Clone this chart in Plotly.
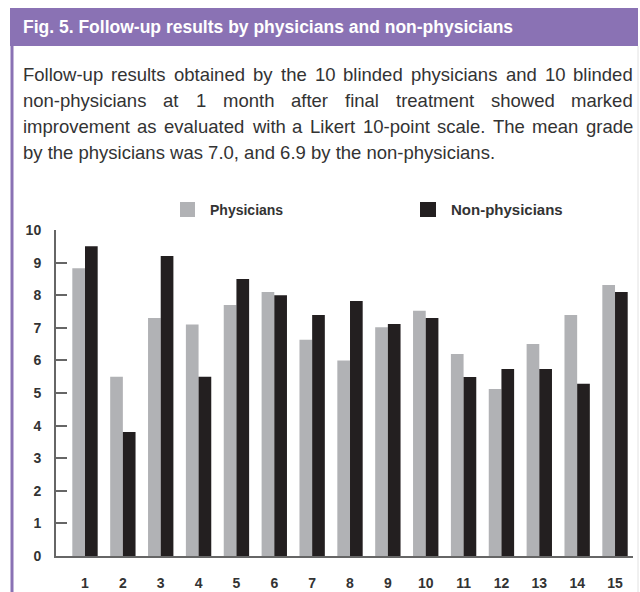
import plotly.graph_objects as go

categories = list(range(1, 16))
physicians = [8.83, 5.5, 7.3, 7.1, 7.7, 8.1, 6.63, 6.0, 7.02, 7.52, 6.2, 5.12, 6.5, 7.39, 8.31]
non_physicians = [9.5, 3.8, 9.2, 5.5, 8.5, 8.0, 7.39, 7.82, 7.12, 7.3, 5.49, 5.74, 5.74, 5.28, 8.1]
y_ticks = list(range(0, 11))

title_text = "Fig. 5. Follow-up results by physicians and non-physicians"
caption_lines = [
    "Follow-up results obtained by the 10 blinded physicians and 10 blinded",
    "non-physicians at 1 month after final treatment showed marked",
    "improvement as evaluated with a Likert 10-point scale. The mean grade",
    "by the physicians was 7.0, and 6.9 by the non-physicians.",
]
justify = [True, True, True, False]

W, H = 640, 592
L, R, T, B = 56, 7, 230, 36
PW, PH = W - L - R, H - T - B

def px(x):
    return (x - L) / PW

def py(y):
    return (H - B - y) / PH

PURPLE = "#8A72B4"
GRAY = "#B1B2B5"
BLACK = "#231F20"
FONT = "Liberation Sans, Arial, sans-serif"

# Arial / Liberation Sans advance widths (per 1000 em) for text layout
AW = {c: 556 for c in "abdeghnopqu0123456789"}
AW.update({"c": 500, "f": 278, "i": 222, "j": 222, "k": 500, "l": 222, "m": 833, "r": 333,
           "s": 500, "t": 278, "v": 500, "w": 722, "x": 500, "y": 500, "z": 500,
           " ": 278, "-": 333, ".": 278, ",": 278, "F": 611, "L": 556, "T": 611})

def text_width(s, size):
    return sum(AW.get(ch, 556) for ch in s) * size / 1000.0

fig = go.Figure()
fig.add_trace(go.Bar(x=categories, y=physicians, name="Physicians",
                     marker=dict(color=GRAY, line=dict(width=0))))
fig.add_trace(go.Bar(x=categories, y=non_physicians, name="Non-physicians",
                     marker=dict(color=BLACK, line=dict(width=0))))

shapes = [
    dict(type="rect", xref="paper", yref="paper", x0=px(10), x1=px(638), y0=py(8), y1=py(46),
         fillcolor=PURPLE, line=dict(width=0), layer="below"),
    dict(type="rect", xref="paper", yref="paper", x0=px(10.5), x1=px(13.5), y0=py(46), y1=py(592),
         fillcolor=PURPLE, line=dict(width=0), layer="below"),
    dict(type="line", xref="paper", yref="paper", x0=px(638), x1=px(638), y0=py(46), y1=py(592),
         line=dict(color="#E2E2E2", width=1), layer="below"),
    dict(type="rect", xref="paper", yref="paper", x0=px(180), x1=px(195), y0=py(202), y1=py(217),
         fillcolor=GRAY, line=dict(width=0)),
    dict(type="rect", xref="paper", yref="paper", x0=px(420), x1=px(436), y0=py(202), y1=py(217),
         fillcolor=BLACK, line=dict(width=0)),
]

annotations = [
    dict(text="<b>" + title_text + "</b>", xref="paper", yref="paper", x=px(22), y=py(27),
         xanchor="left", yanchor="middle", showarrow=False, borderpad=0,
         font=dict(family=FONT, size=17.5, color="white")),
    dict(text="<b>Physicians</b>", xref="paper", yref="paper", x=px(209), y=py(209.5),
         xanchor="left", yanchor="middle", showarrow=False, borderpad=0,
         font=dict(family=FONT, size=14, color="#333333")),
    dict(text="<b>Non-physicians</b>", xref="paper", yref="paper", x=px(450), y=py(209.5),
         xanchor="left", yanchor="middle", showarrow=False, borderpad=0,
         font=dict(family=FONT, size=15, color="#333333")),
]

CAP_SIZE = 18.5
X_LEFT, X_RIGHT = 22, 632
for i, line in enumerate(caption_lines):
    yc = py(74 + 26 * i)
    cfont = dict(family=FONT, size=CAP_SIZE, color="#333333")
    if not justify[i]:
        annotations.append(dict(text=line, xref="paper", yref="paper", x=px(X_LEFT), y=yc,
                                xanchor="left", yanchor="middle", showarrow=False,
                                borderpad=0, font=cfont))
        continue
    words = line.split(" ")
    widths = [text_width(w, CAP_SIZE) for w in words]
    gap = (X_RIGHT - X_LEFT - sum(widths)) / (len(words) - 1)
    xpos = X_LEFT
    for w, wd in zip(words, widths):
        annotations.append(dict(text=w, xref="paper", yref="paper", x=px(xpos), y=yc,
                                xanchor="left", yanchor="middle", showarrow=False,
                                borderpad=0, font=cfont))
        xpos += wd + gap

fig.update_layout(
    width=W, height=H,
    margin=dict(l=L, r=R, t=T, b=B, pad=0, autoexpand=False),
    paper_bgcolor="white", plot_bgcolor="white",
    barmode="group", bargap=0.33, bargroupgap=0,
    showlegend=False,
    shapes=shapes, annotations=annotations,
    font=dict(family=FONT, color="#333333"),
)
fig.update_xaxes(range=[0.234, 15.475], tickvals=categories, ticktext=[f"<b>{c}</b>" for c in categories],
                 showgrid=False, zeroline=False, showline=True, linecolor="#666666", linewidth=2,
                 ticks="", ticklabelstandoff=13, automargin=False,
                 tickfont=dict(family=FONT, size=14, color="#333333"))
fig.update_yaxes(range=[0, 10], tickvals=y_ticks, ticktext=[f"<b>{v}</b>" for v in y_ticks],
                 showgrid=False, zeroline=False, showline=True, linecolor="#666666", linewidth=2,
                 ticks="inside", ticklen=11, tickcolor="#666666", tickwidth=1.5,
                 ticklabelstandoff=10, automargin=False,
                 tickfont=dict(family=FONT, size=14, color="#333333"))

fig.write_html("out.html", config={"displayModeBar": False},
               post_script="document.body.style.margin='0px';document.body.style.overflow='hidden';")
